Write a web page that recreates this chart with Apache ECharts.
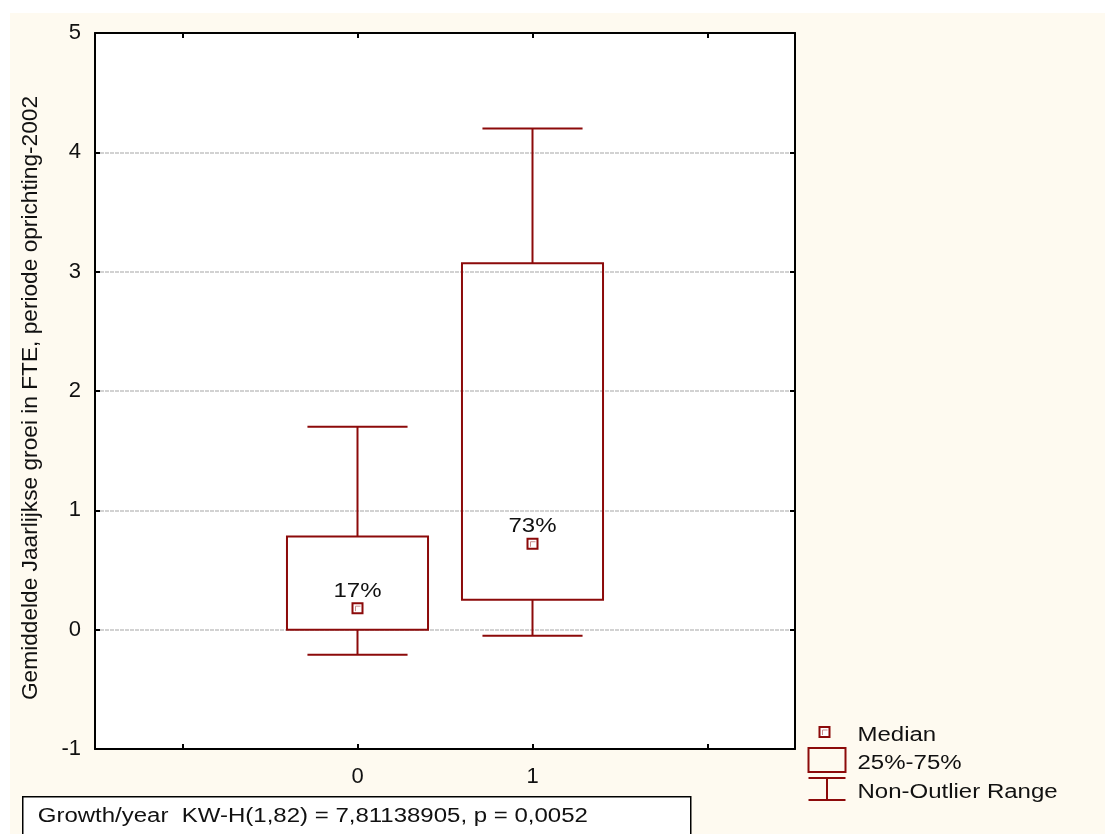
<!DOCTYPE html>
<html lang="nl">
<head>
    <meta charset="UTF-8">
    <title>Boxplot groei</title>
    <script src="https://cdn.jsdelivr.net/npm/echarts@6/dist/echarts.min.js"></script>
    <style>
        html, body { margin: 0; padding: 0; background: #ffffff; }
    </style>
</head>
<body>
    <div id="main" style="width: 1105px; height: 834px;"></div>
    <script>
        // groepen op de x-as
        var groups = ['0', '1'];
        // non-outlier min, 25%, mediaan, 75%, non-outlier max
        var lowVals = [-0.21, -0.05];
        var q1Vals = [0.0, 0.25];
        var medianVals = [0.18, 0.72];
        var q3Vals = [0.78, 3.07];
        var highVals = [1.70, 4.20];
        var medianLabels = ['17%', '73%'];
        var yTicks = { min: -1, max: 5, interval: 1 };

        var red = '#8c0a0a';
        var font = 'Liberation Sans, Arial, sans-serif';
        var stretch = 1.2; // tekst in het origineel is iets breed getrokken

        // lege categorie links en rechts, zoals in het origineel
        var categories = [' '].concat(groups).concat(['  ']);

        var boxData = groups.map(function (g, i) {
            return [i + 1, lowVals[i], q1Vals[i], medianVals[i], q3Vals[i], highVals[i], medianLabels[i]];
        });

        function renderBox(params, api) {
            var x = api.value(0);
            var band = api.size([1, 0])[0];
            var boxHalf = band * 0.403;
            var capHalf = band * 0.286;
            var pLow = api.coord([x, api.value(1)]);
            var pQ1 = api.coord([x, api.value(2)]);
            var pMed = api.coord([x, api.value(3)]);
            var pQ3 = api.coord([x, api.value(4)]);
            var pHigh = api.coord([x, api.value(5)]);
            var cx = pMed[0];
            var line = { stroke: red, lineWidth: 2, fill: null };
            return {
                type: 'group',
                children: [
                    { type: 'line', shape: { x1: cx, y1: pQ3[1], x2: cx, y2: pHigh[1] }, style: line },
                    { type: 'line', shape: { x1: cx - capHalf, y1: pHigh[1], x2: cx + capHalf, y2: pHigh[1] }, style: line },
                    { type: 'line', shape: { x1: cx, y1: pQ1[1], x2: cx, y2: pLow[1] }, style: line },
                    { type: 'line', shape: { x1: cx - capHalf, y1: pLow[1], x2: cx + capHalf, y2: pLow[1] }, style: line },
                    {
                        type: 'rect',
                        shape: { x: cx - boxHalf, y: pQ3[1], width: boxHalf * 2, height: pQ1[1] - pQ3[1] },
                        style: { stroke: red, lineWidth: 2, fill: 'rgba(0,0,0,0)' }
                    },
                    {
                        type: 'rect',
                        shape: { x: cx - 5, y: pMed[1] - 5, width: 10, height: 10 },
                        style: { stroke: red, lineWidth: 2, fill: '#ffffff' }
                    },
                    {
                        type: 'polyline',
                        shape: { points: [[cx - 2, pMed[1] + 3], [cx - 2, pMed[1] - 2], [cx + 3, pMed[1] - 2]] },
                        style: { stroke: '#c98c8c', lineWidth: 1, fill: null }
                    },
                    {
                        type: 'text',
                        x: cx,
                        y: pMed[1] - 17,
                        scaleX: stretch,
                        style: {
                            text: api.value(6), fontSize: 20, fontFamily: font, fill: '#111',
                            align: 'center', verticalAlign: 'middle'
                        }
                    }
                ]
            };
        }

        var chartDom = document.getElementById('main');
        var myChart = echarts.init(chartDom);

        var axisLineStyle = { color: '#000', width: 2 };
        var tickStyle = { show: true, inside: true, length: 5, lineStyle: { color: '#000', width: 2 } };

        function legendText(txt, y) {
            return {
                type: 'text', x: 52, y: y, scaleX: stretch,
                style: { text: txt, fontSize: 20, fontFamily: font, fill: '#111', verticalAlign: 'middle' }
            };
        }

        var option = {
            backgroundColor: '#ffffff',
            animation: false,
            textStyle: { fontFamily: font },
            grid: { left: 95, top: 33, right: 310, bottom: 85, show: true, backgroundColor: '#ffffff', borderWidth: 0 },
            graphic: [
                {
                    type: 'rect', z: -10, silent: true,
                    shape: { x: 10, y: 13, width: 1095, height: 821 },
                    style: { fill: '#fefaf0' }
                },
                // legenda
                {
                    type: 'group', left: 806, top: 725, silent: true,
                    children: [
                        { type: 'rect', shape: { x: 14, y: 4, width: 10, height: 10 }, style: { stroke: red, lineWidth: 2, fill: '#fff' } },
                        { type: 'polyline', shape: { points: [[17, 12], [17, 7], [22, 7]] }, style: { stroke: '#c98c8c', lineWidth: 1, fill: null } },
                        { type: 'rect', shape: { x: 3, y: 25, width: 37, height: 24 }, style: { stroke: red, lineWidth: 2, fill: 'rgba(0,0,0,0)' } },
                        { type: 'line', shape: { x1: 3, y1: 55, x2: 40, y2: 55 }, style: { stroke: red, lineWidth: 2 } },
                        { type: 'line', shape: { x1: 3, y1: 77, x2: 40, y2: 77 }, style: { stroke: red, lineWidth: 2 } },
                        { type: 'line', shape: { x1: 21.5, y1: 55, x2: 21.5, y2: 77 }, style: { stroke: red, lineWidth: 2 } },
                        legendText('Median', 12),
                        legendText('25%-75%', 40),
                        legendText('Non-Outlier Range', 69)
                    ]
                },
                // toetsresultaat
                {
                    type: 'group', left: 22, top: 796, silent: true,
                    children: [
                        { type: 'rect', shape: { x: 0, y: 0, width: 668, height: 40 }, style: { stroke: '#000', lineWidth: 1.5, fill: '#ffffff' } },
                        {
                            type: 'text', x: 15, y: 20, scaleX: stretch,
                            style: { text: 'Growth/year  KW-H(1,82) = 7,81138905, p = 0,0052', fontSize: 20, fontFamily: font, fill: '#111', verticalAlign: 'middle' }
                        }
                    ]
                }
            ],
            xAxis: [
                {
                    type: 'category',
                    position: 'bottom',
                    data: categories,
                    boundaryGap: true,
                    axisLine: { onZero: false, lineStyle: axisLineStyle },
                    axisTick: { show: true, inside: true, length: 5, alignWithLabel: true, lineStyle: { color: '#000', width: 2 } },
                    axisLabel: { fontSize: 22, color: '#111', margin: 17, fontFamily: font },
                    splitLine: { show: false }
                },
                {
                    type: 'category',
                    position: 'top',
                    data: categories,
                    boundaryGap: true,
                    axisLine: { onZero: false, lineStyle: axisLineStyle },
                    axisTick: { show: true, inside: true, length: 5, alignWithLabel: true, lineStyle: { color: '#000', width: 2 } },
                    axisLabel: { show: false },
                    splitLine: { show: false }
                }
            ],
            yAxis: [
                {
                    type: 'value',
                    position: 'left',
                    min: yTicks.min,
                    max: yTicks.max,
                    interval: yTicks.interval,
                    name: 'Gemiddelde Jaarlijkse groei in FTE, periode oprichting-2002',
                    nameLocation: 'middle',
                    nameGap: 53,
                    nameTextStyle: { fontSize: 22.7, color: '#111', fontFamily: font, padding: [0, 14, 0, 0] },
                    axisLine: { show: true, onZero: false, lineStyle: axisLineStyle },
                    axisTick: tickStyle,
                    axisLabel: { fontSize: 22, color: '#111', margin: 14, fontFamily: font },
                    splitLine: { show: true, lineStyle: { color: '#c4c4c4', width: 1.5, type: [4, 1] } }
                },
                {
                    type: 'value',
                    position: 'right',
                    min: yTicks.min,
                    max: yTicks.max,
                    interval: yTicks.interval,
                    axisLine: { show: true, onZero: false, lineStyle: axisLineStyle },
                    axisTick: tickStyle,
                    axisLabel: { show: false },
                    splitLine: { show: false }
                }
            ],
            series: [
                {
                    name: 'box',
                    type: 'custom',
                    xAxisIndex: 0,
                    yAxisIndex: 0,
                    renderItem: renderBox,
                    encode: { x: 0, y: [1, 2, 3, 4, 5] },
                    data: boxData,
                    z: 5
                }
            ]
        };

        option && myChart.setOption(option);
    </script>
</body>
</html>
